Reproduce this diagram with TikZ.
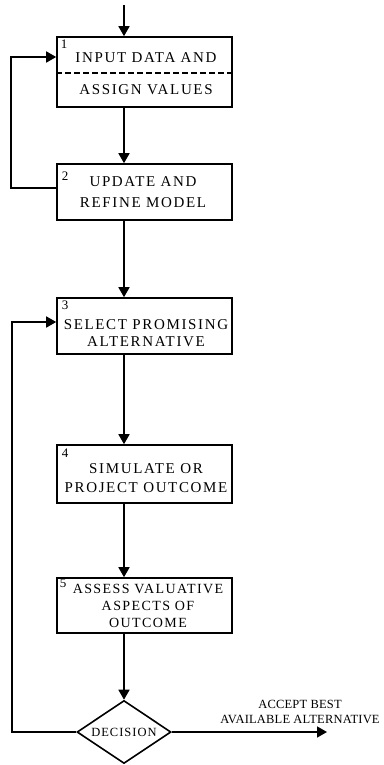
\documentclass[tikz,border=0pt]{standalone}
\usepackage{fontspec}
\setmainfont{Liberation Serif}
\usetikzlibrary{arrows.meta,shapes.geometric}
\begin{document}
\begin{tikzpicture}[x=1pt,y=-1pt,
  line width=1.6pt,
  box/.style={draw, rectangle, minimum width=175pt, inner sep=0pt},
  txt/.style={font=\fontsize{15}{21}\selectfont\addfontfeature{LetterSpace=11}, inner sep=0pt, align=center},
  num/.style={font=\fontsize{13}{13}\selectfont, inner sep=0pt, anchor=north west},
  arr/.style={-{Triangle[length=10pt,width=11pt]}},
  dec/.style={draw, shape=diamond, minimum width=94pt, minimum height=63pt, inner sep=0pt, aspect=1.5, font=\fontsize{12.5}{13}\selectfont\addfontfeature{LetterSpace=8}}
]
\useasboundingbox (0,0) rectangle (383,765);
% boxes
\node[box, minimum height=70pt] (b1) at (144.5,72) {};
\node[box, minimum height=56pt] (b2) at (144.5,192) {};
\node[box, minimum height=56pt] (b3) at (144.5,326) {};
\node[box, minimum height=58pt] (b4) at (144.5,474) {};
\node[box, minimum height=55pt] (b5) at (144.5,605.5) {};
\node[dec] (d) at (124,732) {DECISION};
% box texts
\node[num] (n1) at (60,39) {1};
\node[txt] (t1a) at (146,58) {INPUT DATA AND};
\node[txt] (t1b) at (146,90) {ASSIGN VALUES};
\draw[line width=1.2pt, dash pattern=on 6pt off 3pt] (b1.west |- 0,73) -- (b1.east |- 0,73);
\node[num] (n2) at (61,171) {2};
\node[txt] (t2) at (143,192) {UPDATE AND\\REFINE MODEL};
\node[num] (n3) at (61,300) {3};
\node[txt, font=\fontsize{15}{17}\selectfont\addfontfeature{LetterSpace=11}] (t3) at (146,333) {SELECT PROMISING\\ALTERNATIVE};
\node[num] (n4) at (61,448) {4};
\node[txt, font=\fontsize{15}{19}\selectfont\addfontfeature{LetterSpace=11}] (t4) at (146,478) {SIMULATE OR\\PROJECT OUTCOME};
\node[num] (n5) at (59,578) {5};
\node[txt, font=\fontsize{14}{17}\selectfont\addfontfeature{LetterSpace=10}] (t5) at (148,606) {ASSESS VALUATIVE\\ASPECTS OF\\OUTCOME};
\node[txt, font=\fontsize{12.5}{15}\selectfont\addfontfeature{LetterSpace=1.5}] (lab) at (300,712) {ACCEPT BEST\\AVAILABLE ALTERNATIVE};
% coordinates
\coordinate (in) at (124,5);
\coordinate (lx1) at (11,0);
\coordinate (lx2) at (12,0);
\coordinate (out) at (327,732);
\coordinate (b2w) at ([yshift=4pt]b2.west);
\coordinate (b1w) at ([yshift=15pt]b1.west);
\coordinate (b3w) at ([yshift=4pt]b3.west);
% connectors
\draw[arr] (in) -- (b1.north -| in);
\draw[arr] (b1.south -| in) -- (b2.north -| in);
\draw[arr] (b2.south -| in) -- (b3.north -| in);
\draw[arr] (b3.south -| in) -- (b4.north -| in);
\draw[arr] (b4.south -| in) -- (b5.north -| in);
\draw[arr] (b5.south -| in) -- (d.north);
\draw[arr] (b2w) -- (b2w -| lx1) -- (b1w -| lx1) -- (b1w);
\draw[arr] (d.west) -- (d.west -| lx2) -- (b3w -| lx2) -- (b3w);
\draw[arr] (d.east) -- (out);
\end{tikzpicture}
\end{document}
